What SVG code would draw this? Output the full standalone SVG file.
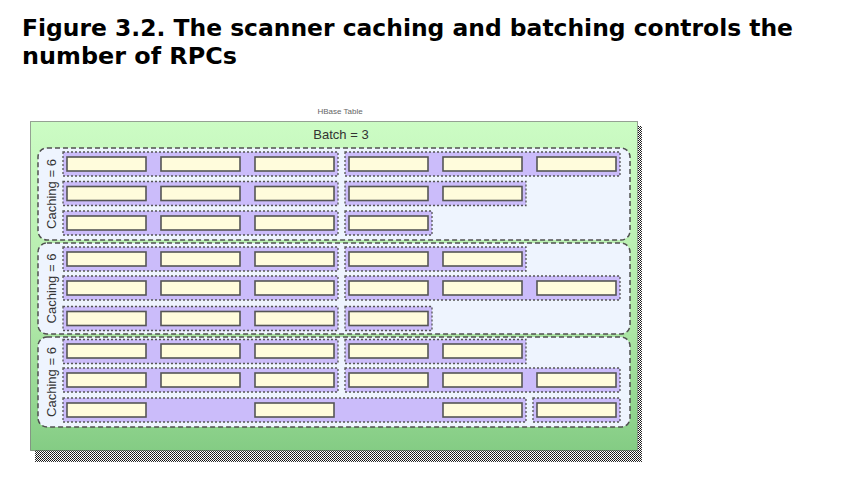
<svg xmlns="http://www.w3.org/2000/svg" width="842" height="481" viewBox="0 0 842 481">
<defs>
<linearGradient id="gGreen" x1="0" y1="0" x2="0" y2="1">
<stop offset="0" stop-color="#ccfcc4"/>
<stop offset="0.6" stop-color="#b0e8a8"/>
<stop offset="1" stop-color="#84cc84"/>
</linearGradient>
<pattern id="stip" width="2" height="2" patternUnits="userSpaceOnUse">
<rect width="2" height="2" fill="#ffffff"/>
<rect x="0" y="0" width="1" height="1" fill="#111"/>
<rect x="1" y="1" width="1" height="1" fill="#333"/>
</pattern>
<style>
.title{font-family:"DejaVu Sans",Verdana,sans-serif;font-weight:bold;font-size:23px;fill:#000}
.lbl{font-family:"Liberation Sans",Arial,sans-serif;font-size:13px;fill:#333}
.tiny{font-family:"Liberation Sans",Arial,sans-serif;font-size:8px;fill:#666}
.grp{fill:#eef4fe;stroke:#505050;stroke-width:1.5;stroke-dasharray:5 3}
.batch{fill:#cbbcfa;stroke:#555;stroke-width:1.3;stroke-dasharray:2 2}
.cell{fill:#fffcdc;stroke:#555;stroke-width:1.6}
</style>
</defs>
<rect width="842" height="481" fill="#ffffff"/>
<text class="title" x="22" y="36" textLength="771" lengthAdjust="spacingAndGlyphs">Figure 3.2. The scanner caching and batching controls the</text>
<text class="title" x="22" y="64" textLength="215" lengthAdjust="spacingAndGlyphs">number of RPCs</text>

<g id="table">
<rect x="35" y="450" width="607" height="12" fill="url(#stip)"/>
<rect x="638" y="126" width="4" height="336" fill="url(#stip)"/>
<rect x="30.5" y="121.5" width="607" height="329" fill="url(#gGreen)" stroke="#444" stroke-width="1" stroke-dasharray="1 1"/>
<text class="tiny" x="340" y="114" text-anchor="middle">HBase Table</text>
<text class="lbl" x="341" y="139" text-anchor="middle">Batch = 3</text>
</g>

<g id="cache1">
<rect class="grp" x="38" y="148" width="592" height="92" rx="9"/>
<text class="lbl" transform="translate(56 194) rotate(-90)" text-anchor="middle">Caching = 6</text>
<rect class="batch" x="63" y="152" width="275" height="24"/>
<rect class="batch" x="345" y="152" width="275" height="24"/>
<rect class="cell" x="67" y="157" width="79" height="14"/>
<rect class="cell" x="161" y="157" width="79" height="14"/>
<rect class="cell" x="255" y="157" width="79" height="14"/>
<rect class="cell" x="349" y="157" width="79" height="14"/>
<rect class="cell" x="443" y="157" width="79" height="14"/>
<rect class="cell" x="537" y="157" width="79" height="14"/>
<rect class="batch" x="63" y="181.5" width="275" height="24"/>
<rect class="batch" x="345" y="181.5" width="181" height="24"/>
<rect class="cell" x="67" y="186.5" width="79" height="14"/>
<rect class="cell" x="161" y="186.5" width="79" height="14"/>
<rect class="cell" x="255" y="186.5" width="79" height="14"/>
<rect class="cell" x="349" y="186.5" width="79" height="14"/>
<rect class="cell" x="443" y="186.5" width="79" height="14"/>
<rect class="batch" x="63" y="211" width="275" height="24"/>
<rect class="batch" x="345" y="211" width="87" height="24"/>
<rect class="cell" x="67" y="216" width="79" height="14"/>
<rect class="cell" x="161" y="216" width="79" height="14"/>
<rect class="cell" x="255" y="216" width="79" height="14"/>
<rect class="cell" x="349" y="216" width="79" height="14"/>
</g>

<g id="cache2">
<rect class="grp" x="38" y="243" width="592" height="91" rx="9"/>
<text class="lbl" transform="translate(56 288.5) rotate(-90)" text-anchor="middle">Caching = 6</text>
<rect class="batch" x="63" y="247" width="275" height="24"/>
<rect class="batch" x="345" y="247" width="181" height="24"/>
<rect class="cell" x="67" y="252" width="79" height="14"/>
<rect class="cell" x="161" y="252" width="79" height="14"/>
<rect class="cell" x="255" y="252" width="79" height="14"/>
<rect class="cell" x="349" y="252" width="79" height="14"/>
<rect class="cell" x="443" y="252" width="79" height="14"/>
<rect class="batch" x="63" y="276" width="275" height="24"/>
<rect class="batch" x="345" y="276" width="275" height="24"/>
<rect class="cell" x="67" y="281" width="79" height="14"/>
<rect class="cell" x="161" y="281" width="79" height="14"/>
<rect class="cell" x="255" y="281" width="79" height="14"/>
<rect class="cell" x="349" y="281" width="79" height="14"/>
<rect class="cell" x="443" y="281" width="79" height="14"/>
<rect class="cell" x="537" y="281" width="79" height="14"/>
<rect class="batch" x="63" y="306.5" width="275" height="24"/>
<rect class="batch" x="345" y="306.5" width="87" height="24"/>
<rect class="cell" x="67" y="311.5" width="79" height="14"/>
<rect class="cell" x="161" y="311.5" width="79" height="14"/>
<rect class="cell" x="255" y="311.5" width="79" height="14"/>
<rect class="cell" x="349" y="311.5" width="79" height="14"/>
</g>

<g id="cache3">
<rect class="grp" x="38" y="337" width="592" height="90" rx="9"/>
<text class="lbl" transform="translate(56 382) rotate(-90)" text-anchor="middle">Caching = 6</text>
<rect class="batch" x="63" y="339.5" width="275" height="24"/>
<rect class="batch" x="345" y="339.5" width="181" height="24"/>
<rect class="cell" x="67" y="344" width="79" height="14"/>
<rect class="cell" x="161" y="344" width="79" height="14"/>
<rect class="cell" x="255" y="344" width="79" height="14"/>
<rect class="cell" x="349" y="344" width="79" height="14"/>
<rect class="cell" x="443" y="344" width="79" height="14"/>
<rect class="batch" x="63" y="368" width="275" height="24"/>
<rect class="batch" x="345" y="368" width="275" height="24"/>
<rect class="cell" x="67" y="373" width="79" height="14"/>
<rect class="cell" x="161" y="373" width="79" height="14"/>
<rect class="cell" x="255" y="373" width="79" height="14"/>
<rect class="cell" x="349" y="373" width="79" height="14"/>
<rect class="cell" x="443" y="373" width="79" height="14"/>
<rect class="cell" x="537" y="373" width="79" height="14"/>
<rect class="batch" x="63" y="398" width="463" height="24"/>
<rect class="batch" x="533" y="398" width="87" height="24"/>
<rect class="cell" x="67" y="403" width="79" height="14"/>
<rect class="cell" x="255" y="403" width="79" height="14"/>
<rect class="cell" x="443" y="403" width="79" height="14"/>
<rect class="cell" x="537" y="403" width="79" height="14"/>
</g>

<g id="connectors"/>
</svg>
